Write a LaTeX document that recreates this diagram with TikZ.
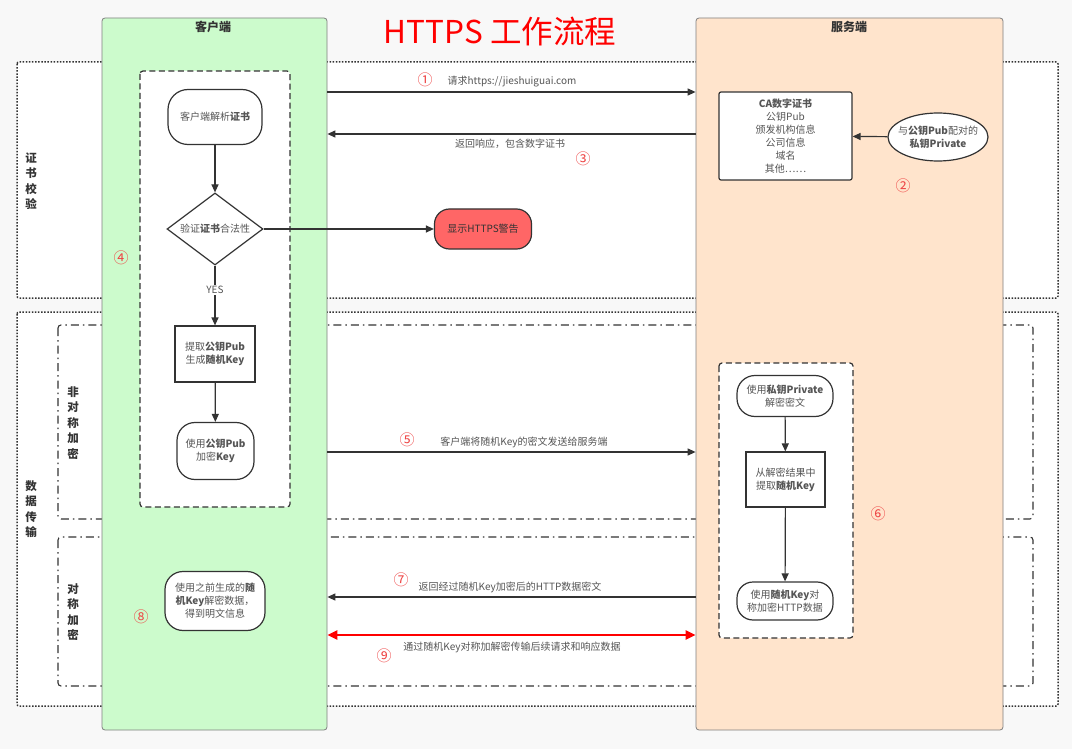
\documentclass[tikz,border=0pt]{standalone}
\usepackage{fontspec}
\setmainfont{Noto Sans CJK SC}
\usetikzlibrary{arrows.meta,positioning,shapes.geometric}

\definecolor{clientbg}{HTML}{CCFBCC}
\definecolor{serverbg}{HTML}{FFE4CC}
\definecolor{linegray}{HTML}{333333}
\definecolor{textgray}{HTML}{555555}
\definecolor{numred}{HTML}{EE4444}
\definecolor{warnred}{HTML}{FF6666}
\definecolor{pagebg}{HTML}{F8F8F8}

\tikzset{
  flowbox/.style={draw=linegray,line width=1.2pt,fill=white,text=textgray,align=center,
    inner sep=0pt,font=\fontsize{10}{13}\selectfont},
  roundbox/.style={flowbox,rounded corners=#1},
  msg/.style={draw=linegray,line width=1.2pt,-{Triangle[length=8pt,width=7pt]}},
  num/.style={text=numred,font=\fontsize{15}{15}\selectfont},
  msgtext/.style={text=textgray,font=\fontsize{10}{12}\selectfont},
  phase/.style={draw=linegray,line width=1.5pt,dash pattern=on 1.5pt off 1.6pt,fill=white,rounded corners=2pt},
  subphase/.style={draw=linegray,line width=1.1pt,dash pattern=on 8pt off 4pt on 1.5pt off 4pt,fill=white,rounded corners=3pt},
  inner box/.style={draw=linegray,line width=1.2pt,dash pattern=on 6pt off 3.5pt,fill=white,rounded corners=3pt},
  vlabel/.style={align=center,text=linegray,font=\bfseries\fontsize{11.5}{15.5}\selectfont},
  column/.style={draw=gray,line width=0.8pt,rounded corners=3pt,inner sep=0pt},
  collabel/.style={text=linegray,font=\bfseries\fontsize{12}{14}\selectfont},
}

\begin{document}
\begin{tikzpicture}[x=1pt,y=-1pt]
  \fill[pagebg] (0,0) rectangle (1072,749);
  \useasboundingbox (0,0) rectangle (1072,749);

  \draw[phase] (17,62) rectangle (1058,298);
  \draw[phase] (17,312) rectangle (1058,706);
  \draw[subphase] (58,325) rectangle (1033,519);
  \draw[subphase] (58,537) rectangle (1033,686);
  \node[vlabel] (lcert) at (31,181) {证\\书\\校\\验};
  \node[vlabel] (ldata) at (31,509) {数\\据\\传\\输};
  \node[vlabel] (lasym) at (73,423) {非\\对\\称\\加\\密};
  \node[vlabel] (lsym) at (73,612) {对\\称\\加\\密};

  \node[column,fill=clientbg,minimum width=225pt,minimum height=712pt] (client) at (214.5,374) {};
  \node[column,fill=serverbg,minimum width=307pt,minimum height=712pt] (server) at (849.5,374) {};
  \node[collabel] (clientlbl) at (213,27) {客户端};
  \node[collabel] (serverlbl) at (849,27) {服务端};
  \node[text=red,font=\fontsize{31.5}{33}\selectfont] (title) at (500,32) {HTTPS 工作流程};

  \draw[inner box] (140,71) rectangle (290,507);
  \draw[inner box] (719,363) rectangle (853,638);

  % client side
  \node[roundbox=20pt,minimum width=94pt,minimum height=55pt] (parse) at (215,117) {客户端解析\textbf{证书}};
  \node[flowbox,diamond,aspect=1.33,minimum width=96pt,minimum height=72pt] (check) at (215,229) {验证\textbf{证书}合法性};
  \node[flowbox,minimum width=80pt,minimum height=56pt] (keygen) at (215,354) {提取\textbf{公钥Pub}\\生成\textbf{随机Key}};
  \node[roundbox=18pt,minimum width=77pt,minimum height=57pt] (encrypt) at (215.5,451) {使用\textbf{公钥Pub}\\加密\textbf{Key}};
  \node[roundbox=18pt,minimum width=100pt,minimum height=59pt] (plain) at (215,601) {使用之前生成的\textbf{随}\\\textbf{机Key}解密数据，\\得到明文信息};
  \node[roundbox=15pt,fill=warnred,text=linegray,minimum width=97pt,minimum height=40pt] (warn) at (483,229) {显示HTTPS警告};

  \draw[msg] (parse) -- (check);
  \draw[msg] (check) -- node[pos=0.41,fill=white,msgtext,inner sep=1pt] (yes) {YES} (keygen);
  \draw[msg] (keygen) -- (encrypt);
  \draw[msg] (check) -- (warn);

  % server side
  \node[roundbox=2pt,minimum width=133pt,minimum height=88pt] (cert) at (785.5,136)
    {\textbf{CA数字证书}\\公钥Pub\\颁发机构信息\\公司信息\\域名\\其他……};
  \node[flowbox,ellipse,inner xsep=-8pt,minimum width=100pt,minimum height=48pt] (privkey) at (938,137)
    {与\textbf{公钥Pub}配对的\\\textbf{私钥Private}};
  \draw[msg] (privkey) -- (cert);
  \node[roundbox=18pt,minimum width=96pt,minimum height=41pt] (decrypt) at (785,396) {使用\textbf{私钥Private}\\解密密文};
  \node[flowbox,minimum width=79pt,minimum height=55pt] (extract) at (785.5,479.5) {从解密结果中\\提取\textbf{随机Key}};
  \node[roundbox=16pt,minimum width=96pt,minimum height=38pt] (symenc) at (785,601) {使用\textbf{随机Key}对\\称加密HTTP数据};
  \draw[msg] (decrypt) -- (extract);
  \draw[msg] (extract) -- (symenc);

  % messages
  \coordinate (y1) at (0,92);
  \coordinate (y3) at (0,134);
  \coordinate (y5) at (0,452);
  \coordinate (y7) at (0,597);
  \coordinate (y9) at (0,635);
  \draw[msg] (y1 -| client.east) -- (y1 -| server.west);
  \draw[msg] (y3 -| server.west) -- (y3 -| client.east);
  \draw[msg] (y5 -| client.east) -- (y5 -| server.west);
  \draw[msg] (y7 -| server.west) -- (y7 -| client.east);
  \draw[red,line width=2.5pt,{Triangle[length=10pt,width=9pt]}-{Triangle[length=10pt,width=9pt]}] (y9 -| client.east) -- (y9 -| server.west);

  \node[msgtext] (t1) at (512,82) {请求https://jieshuiguai.com};
  \node[msgtext] (t3) at (510,144) {返回响应，包含数字证书};
  \node[msgtext] (t5) at (524,442) {客户端将随机Key的密文发送给服务端};
  \node[msgtext] (t7) at (510,587) {返回经过随机Key加密后的HTTP数据密文};
  \node[msgtext] (t9) at (512,647) {通过随机Key对称加解密传输后续请求和响应数据};

  \node[num] (n1) at (425,80) {①};
  \node[num] (n2) at (903,186) {②};
  \node[num] (n3) at (583,159) {③};
  \node[num] (n4) at (121,258) {④};
  \node[num] (n5) at (407,440) {⑤};
  \node[num] (n6) at (878,514) {⑥};
  \node[num] (n7) at (401,580) {⑦};
  \node[num] (n8) at (141,617) {⑧};
  \node[num] (n9) at (384,656) {⑨};
\end{tikzpicture}
\end{document}
